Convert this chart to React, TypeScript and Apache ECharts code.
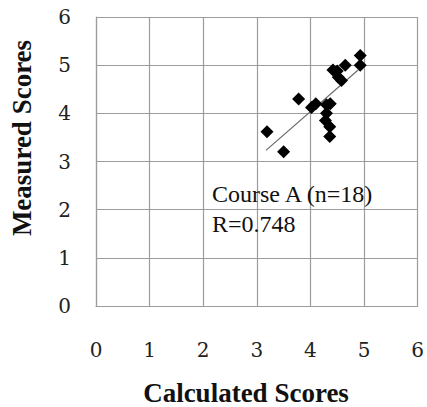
import React, { useEffect, useRef } from "react";
import * as echarts from "echarts";

const calculated = [3.19, 3.5, 3.78, 4.02, 4.1, 4.3, 4.37, 4.3, 4.28, 4.36, 4.36, 4.42, 4.5, 4.52, 4.58, 4.65, 4.93, 4.93];
const measured = [3.62, 3.2, 4.3, 4.12, 4.2, 4.18, 4.2, 4.0, 3.85, 3.72, 3.52, 4.9, 4.88, 4.75, 4.68, 5.0, 5.2, 5.0];
const trendX = [3.17, 4.89];
const trendY = [3.23, 4.9];
const axisTicks = [0, 1, 2, 3, 4, 5, 6];
const xTitle = "Calculated Scores";
const yTitle = "Measured Scores";
const noteLines = ["Course A (n=18)", "R=0.748"];

export default function App() {
  const ref = useRef<HTMLDivElement>(null);
  useEffect(() => {
    document.body.style.margin = "0";
    if (!ref.current) return;
    const chart = echarts.init(ref.current, undefined, { renderer: "svg" });
    const gridColor = "#9c9c9c";
    const tickFont = { fontFamily: "'DejaVu Serif', serif", fontSize: 20, color: "#222" };
    const axisCommon = {
      type: "value" as const,
      min: axisTicks[0],
      max: axisTicks[axisTicks.length - 1],
      interval: 1,
      axisLine: { show: true, lineStyle: { color: gridColor, width: 1.2 } },
      axisTick: { show: false },
      splitLine: { show: true, showMinLine: true, showMaxLine: true, lineStyle: { color: gridColor, width: 1.2 } },
    };
    const serif = "'Liberation Serif', 'Times New Roman', serif";
    chart.setOption({
      animation: false,
      grid: { left: 96, top: 17, right: 7, bottom: 101 },
      xAxis: { ...axisCommon, axisLabel: { ...tickFont, margin: 34 } },
      yAxis: { ...axisCommon, axisLabel: { ...tickFont, margin: 25 } },
      series: [
        {
          type: "line",
          data: trendX.map((x, i) => [x, trendY[i]]),
          showSymbol: false,
          symbol: "none",
          lineStyle: { color: "#6a6a6a", width: 1.2 },
          z: 2,
        },
        {
          type: "scatter",
          data: calculated.map((x, i) => [x, measured[i]]),
          symbol: "diamond",
          symbolSize: 13,
          itemStyle: { color: "#000", opacity: 1 },
          z: 3,
        },
      ],
      graphic: [
        {
          type: "text",
          x: 246,
          y: 393,
          style: {
            text: xTitle,
            fontFamily: serif,
            fontWeight: "bold",
            fontSize: 27,
            fill: "#111",
            align: "center",
            verticalAlign: "middle",
          },
        },
        {
          type: "text",
          x: 22,
          y: 138,
          rotation: Math.PI / 2,
          style: {
            text: yTitle,
            fontFamily: serif,
            fontWeight: "bold",
            fontSize: 27,
            fill: "#111",
            align: "center",
            verticalAlign: "middle",
          },
        },
        {
          type: "text",
          x: 212,
          y: 194,
          style: {
            text: noteLines[0],
            fontFamily: serif,
            fontSize: 24,
            fill: "#111",
            align: "left",
            verticalAlign: "middle",
          },
          z: 10,
        },
        {
          type: "text",
          x: 212,
          y: 224,
          style: {
            text: noteLines[1],
            fontFamily: serif,
            fontSize: 24,
            fill: "#111",
            align: "left",
            verticalAlign: "middle",
          },
          z: 10,
        },
      ],
    });
    return () => chart.dispose();
  }, []);
  return <div ref={ref} style={{ width: 427, height: 407 }} />;
}
